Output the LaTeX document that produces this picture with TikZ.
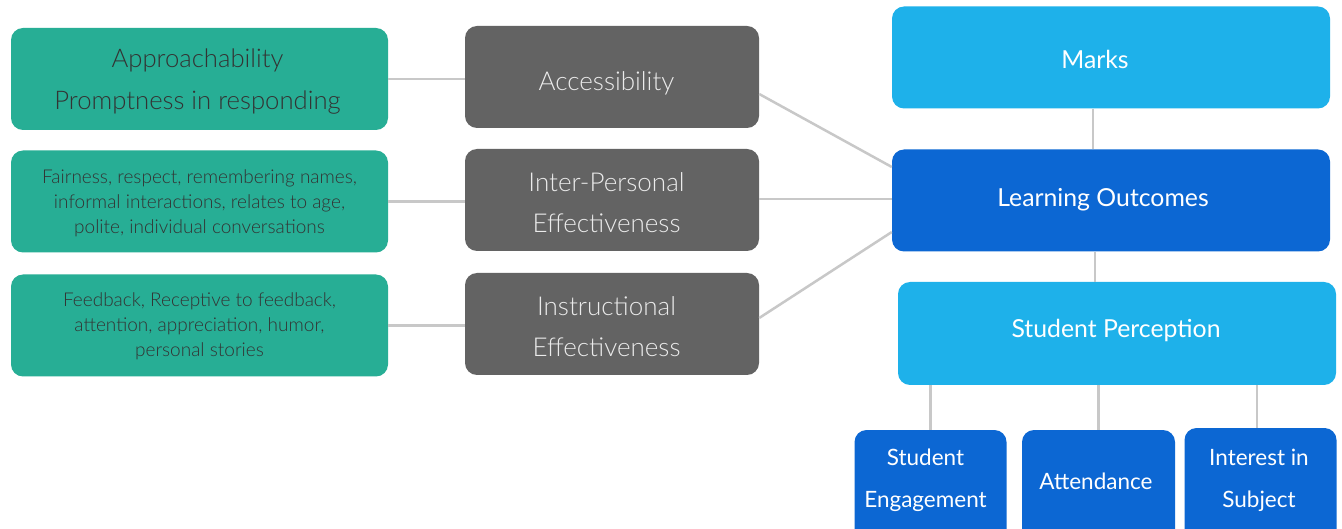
\documentclass[tikz,border=0pt]{standalone}
\usepackage{fontspec}
\usetikzlibrary{backgrounds}
\setmainfont{Lato}
\newfontfamily\lightfont{Lato Light}
\definecolor{teal}{HTML}{27AE95}
\definecolor{slate}{HTML}{636363}
\definecolor{sky}{HTML}{1EB1EA}
\definecolor{royal}{HTML}{0C67D3}
\definecolor{wire}{HTML}{C8C8C8}
\definecolor{darktext}{HTML}{333333}
\tikzset{
  box/.style={rectangle, rounded corners=12pt, inner sep=0pt},
  factor/.style={box, fill=teal, minimum width=377pt, minimum height=102pt},
  pillar/.style={box, fill=slate, minimum width=294pt, minimum height=102pt},
  outcome/.style={box, minimum width=438pt, minimum height=102pt},
  leaf/.style={box, fill=royal, minimum width=152pt, minimum height=120pt},
  caption/.style={inner sep=0pt, align=center},
  factortext/.style={caption, text=darktext, font=\lightfont\fontsize{19}{25}\selectfont},
  pillartext/.style={caption, text=white!92!black, font=\lightfont\fontsize{26}{41}\selectfont},
  outcometext/.style={caption, text=white, font=\fontsize{24.8}{41}\selectfont},
  leaftext/.style={caption, text=white, font=\fontsize{22.5}{42}\selectfont},
  link/.style={draw=wire, line width=2.5pt}
}
\begin{document}
\begin{tikzpicture}[x=1pt, y=-1pt]
\useasboundingbox (0,0) rectangle (1342,529);
\clip (0,0) rectangle (1342,529);
\fill[white] (0,0) rectangle (1342,529);

% boxes
\node[factor] (appr) at (199.5,79) {};
\node[factor] (fair) at (199.5,201.5) {};
\node[factor] (feed) at (199.5,325.5) {};
\node[pillar] (acc) at (612,77) {};
\node[pillar] (inter) at (612,200) {};
\node[pillar] (instr) at (612,324) {};
\node[outcome, fill=sky] (marks) at (1111,57.5) {};
\node[outcome, fill=royal] (lo) at (1111,200.5) {};
\node[outcome, fill=sky, minimum height=103pt] (sp) at (1117,333.5) {};
\node[leaf] (eng) at (930.5,490) {};
\node[leaf, minimum width=153pt] (att) at (1098.5,490) {};
\node[leaf, minimum height=122pt] (int) at (1260.5,489) {};

% connectors (yshift works in page units: positive is upwards)
\draw[link] (appr.east) -- (appr.east -| acc.west);
\draw[link] (fair.east) -- (fair.east -| inter.west);
\draw[link] (feed.east) -- (feed.east -| instr.west);
\draw[link] ([yshift=-17pt]acc.east) -- ([yshift=33.5pt]lo.west);
\draw[link] ([yshift=1pt]inter.east) -- ([yshift=1.5pt]lo.west);
\draw[link] ([yshift=6pt]instr.east) -- ([yshift=-31.5pt]lo.west);
\draw[link] ([xshift=-18pt]marks.south) -- ([xshift=-18pt]marks.south |- lo.north);
\draw[link] ([xshift=-16pt]lo.south) -- ([xshift=-16pt]lo.south |- sp.north);
\draw[link] (sp.south -| eng.center) -- (eng.north);
\draw[link] (sp.south -| att.center) -- (att.north);
\draw[link] ([xshift=-3.5pt]sp.south -| int.center) -- ([xshift=-3.5pt]int.north);

% texts
\node[factortext, font=\lightfont\fontsize{25.7}{42}\selectfont] (apprtext) at (197.5,82) {Approachability\\Promptness in responding};
\node[factortext] (fairtext) at (199.5,203.5) {Fairness, respect, remembering names,\\informal interactions, relates to age,\\polite, individual conversations};
\node[factortext] (feedtext) at (199.5,326.5) {Feedback, Receptive to feedback,\\attention, appreciation, humor,\\personal stories};
\node[pillartext] (acctext) at (606.5,83) {Accessibility};
\node[pillartext] (intertext) at (606.5,203) {Inter-Personal\\Effectiveness};
\node[pillartext] (instrtext) at (606.5,326.5) {Instructional\\Effectiveness};
\node[outcometext] (markstext) at (1095,59) {Marks};
\node[outcometext] (lotext) at (1103,200) {Learning Outcomes};
\node[outcometext] (sptext) at (1116,330.5) {Student Perception};
\node[leaftext] (engtext) at (925.5,480) {Student\\Engagement};
\node[leaftext] (atttext) at (1096,481) {Attendance};
\node[leaftext] (inttext) at (1259,480) {Interest in\\Subject};
\end{tikzpicture}
\end{document}
